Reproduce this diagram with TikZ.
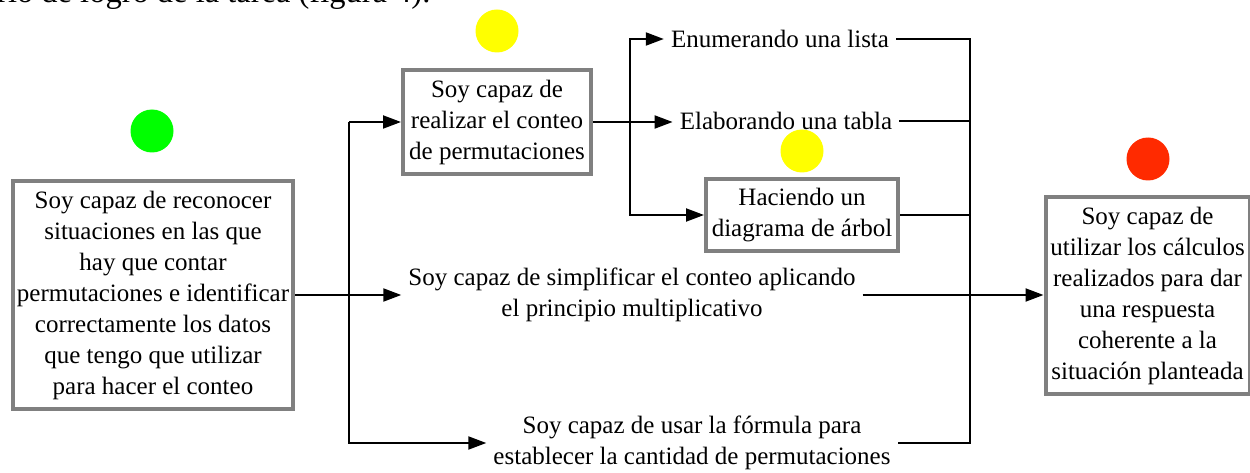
\documentclass[tikz,border=0pt]{standalone}
\usepackage{fontspec}
\setmainfont{Liberation Serif}
\usetikzlibrary{arrows.meta}
\definecolor{boxgray}{HTML}{808080}
\definecolor{dotgreen}{HTML}{00FF00}
\definecolor{dotyellow}{HTML}{FFFF00}
\definecolor{dotred}{HTML}{FF2A00}
\tikzset{
  txt/.style={font=\fontsize{25}{31}\selectfont, align=center, inner xsep=7pt, inner ysep=0pt},
  gbox/.style={txt, draw=boxgray, line width=4pt, inner sep=0pt, fill=white},
  conn/.style={line width=2pt, black},
  arr/.style={conn, -{Triangle[length=18pt,width=13pt]}},
  dot/.style={circle, inner sep=0pt, minimum size=43pt},
}
\begin{document}
\begin{tikzpicture}[x=1pt,y=-1pt]
\useasboundingbox (0,0) rectangle (1250,473);
% partial heading text, cut at the top as in the reference
\node[anchor=base west, inner sep=0pt, font=\fontsize{32.5}{36}\selectfont] (head) at (-3,3) {rio de logro de la tarea (figura 4).};
% dots
\node[dot, fill=dotgreen] (g1) at (152,131) {};
\node[dot, fill=dotyellow] (y1) at (497,31) {};
\node[dot, fill=dotyellow] (y2) at (802,151) {};
\node[dot, fill=dotred] (r1) at (1148,159) {};
% boxes
\node[gbox, minimum width=280pt, minimum height=227pt] (left) at (153,295) {Soy capaz de reconocer\\situaciones en las que\\hay que contar\\permutaciones e identificar\\correctamente los datos\\que tengo que utilizar\\para hacer el conteo};
\node[gbox, minimum width=188pt, minimum height=104pt] (box2) at (497,122) {Soy capaz de\\realizar el conteo\\de permutaciones};
\node[gbox, minimum width=192pt, minimum height=72pt] (box3) at (802,215) {Haciendo un\\diagrama de árbol};
\node[gbox, minimum width=204pt, minimum height=197pt] (right) at (1147.5,295.5) {Soy capaz de\\utilizar los cálculos\\realizados para dar\\una respuesta\\coherente a la\\situación planteada};
% text nodes
\node[txt] (enum) at (780,39) {Enumerando una lista};
\node[txt] (elab) at (786,121) {Elaborando una tabla};
\node[txt] (simp) at (632,295) {Soy capaz de simplificar el conteo aplicando\\el principio multiplicativo};
\node[txt] (form) at (692,443) {Soy capaz de usar la fórmula para\\establecer la cantidad de permutaciones};
% junction columns
\coordinate (jx) at (349,0);
\coordinate (kx) at (630,0);
\coordinate (mx) at (970,0);
% connectors
\draw[arr] (left.east |- simp.west) -- (simp.west);
\draw[arr] (box2.west -| jx) -- (box2.west);
\draw[arr] (box2.west -| jx) |- (form.west);
\draw[arr] (box2.east) -- (box2.east -| elab.west);
\draw[arr] (box2.east -| kx) |- (enum.west);
\draw[arr] (box2.east -| kx) |- (box3.west);
\draw[conn] (enum.east) -| (form.east -| mx) -- (form.east);
\draw[conn] (elab.east) -- (elab.east -| mx);
\draw[conn] (box3.east) -- (box3.east -| mx);
\draw[arr] (simp.east) -- (simp.east -| right.west);
\end{tikzpicture}
\end{document}
